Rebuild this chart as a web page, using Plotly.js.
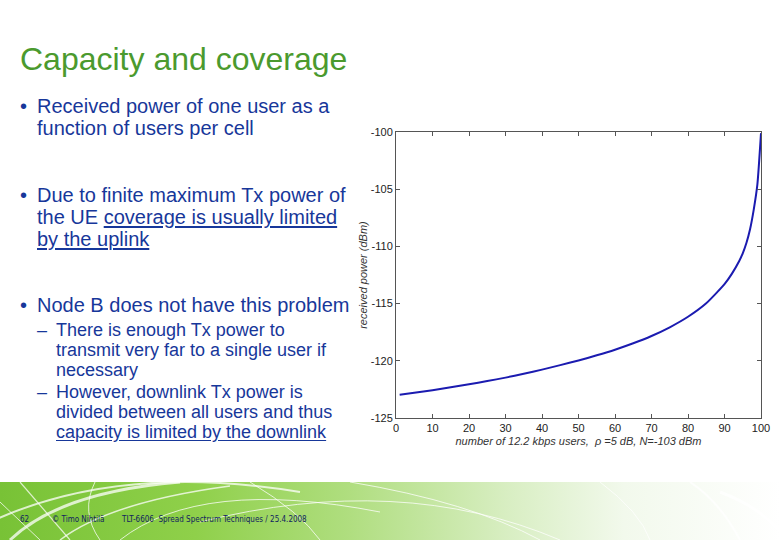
<!DOCTYPE html>
<html>
<head>
<meta charset="utf-8">
<script src="https://cdn.plot.ly/plotly-3.0.1.min.js"></script>
<style>
  html, body { margin:0; padding:0; background:#fff; }
  #slide { position:relative; width:780px; height:540px; overflow:hidden; background:#fff; font-family:Arial, "Liberation Sans", sans-serif; }
  #footer { position:absolute; left:0; top:482px; width:780px; height:58px;
    background: linear-gradient(90deg, #78c236 0%, #8fd04a 25%, #b0de80 45%, #d8eec2 65%, #f2f9ec 80%, #ffffff 100%); z-index:0; }
  #chart { position:absolute; left:0; top:0; width:780px; height:540px; z-index:1; }
  .txt { position:absolute; z-index:2; color:#17379a; white-space:nowrap; }
  #title { left:20px; top:41px; font-size:32px; color:#4b9a2e; }
  .b { font-size:20px; line-height:22px; }
  .s { font-size:18px; line-height:20px; }
  u { text-decoration:underline; text-underline-offset:2px; }
  .ft { position:absolute; z-index:2; font-size:8px; color:#10235f; top:515px; font-family:"DejaVu Sans Condensed","Liberation Sans Narrow",Arial,sans-serif; }
</style>
</head>
<body>
<div id="slide">
  <div id="footer">
    <svg width="780" height="58" style="position:absolute;left:0;top:0">
      <g fill="none" stroke="#ffffff" stroke-opacity="0.75">
        <path d="M-10 40 Q 120 -20 300 10" stroke-width="2"/>
        <path d="M10 58 Q 60 10 180 0" stroke-width="3"/>
        <path d="M60 58 Q 110 20 230 4" stroke-width="1.5"/>
        <path d="M120 58 Q 200 -5 380 30" stroke-width="1"/>
        <path d="M0 20 L 40 58" stroke-width="1"/>
        <path d="M20 0 L 70 58" stroke-width="1.2"/>
        <path d="M95 0 Q 80 30 100 58" stroke-width="1"/>
        <path d="M250 0 Q 300 30 320 58" stroke-width="1"/>
        <path d="M200 40 Q 400 -10 560 58" stroke-width="1"/>
        <path d="M350 0 Q 470 20 540 58" stroke-width="1"/>
        <path d="M600 0 Q 640 30 650 58" stroke-width="1"/>
        <path d="M690 0 Q 720 20 740 58" stroke-width="2"/>
        <path d="M720 10 Q 760 25 780 50" stroke-width="3"/>
      </g>
    </svg>
  </div>
  <div id="chart"></div>

  <div class="txt" id="title">Capacity and coverage</div>

  <div class="txt b" style="left:20px;top:95px;">•</div>
  <div class="txt b" style="left:37px;top:95px;">Received power of one user as a<br>function of users per cell</div>

  <div class="txt b" style="left:20px;top:184px;">•</div>
  <div class="txt b" style="left:37px;top:184px;">Due to finite maximum Tx power of<br>the UE <u>coverage is usually limited</u><br><u>by the uplink</u></div>

  <div class="txt b" style="left:20px;top:294px;">•</div>
  <div class="txt b" style="left:37px;top:294px;">Node B does not have this problem</div>

  <div class="txt s" style="left:37px;top:320px;">–</div>
  <div class="txt s" style="left:56px;top:320px;">There is enough Tx power to<br>transmit very far to a single user if<br>necessary</div>
  <div class="txt s" style="left:37px;top:382px;">–</div>
  <div class="txt s" style="left:56px;top:382px;">However, downlink Tx power is<br>divided between all users and thus<br><u>capacity is limited by the downlink</u></div>

  <div class="ft" style="left:20px;">62</div>
  <div class="ft" style="left:52px;">© Timo Nihtilä</div>
  <div class="ft" style="left:122px;">TLT-6606&nbsp; Spread Spectrum Techniques / 25.4.2008</div>
</div>

<script>
// number of 12.2 kbps users per cell
const users = [1, 5, 10, 15, 20, 25, 30, 35, 40, 45, 50, 55, 60, 65, 70, 75, 80, 85, 88, 90, 92, 94, 95, 96, 97, 98, 99, 100];
// received power of one user (dBm)
const receivedPower = [-122.97, -122.8, -122.58, -122.32, -122.05, -121.77, -121.47, -121.13, -120.77, -120.38,
  -119.97, -119.52, -119.03, -118.47, -117.83, -117.07, -116.15, -114.97, -114.0, -113.3,
  -112.4, -111.3, -110.6, -109.7, -108.5, -106.8, -104.6, -100.1];
const xTicks = [0, 10, 20, 30, 40, 50, 60, 70, 80, 90, 100];
const yTicks = [-125, -120, -115, -110, -105, -100];

const axisCommon = {
  showline: true, mirror: 'ticks', linecolor: '#555', linewidth: 1,
  ticks: 'inside', ticklen: 4, tickcolor: '#555', showgrid: false, zeroline: false,
  tickfont: {family: 'Arial, Liberation Sans, sans-serif', size: 11, color: '#222'}
};

Plotly.newPlot('chart', [{
  x: users, y: receivedPower, type: 'scatter', mode: 'lines',
  line: {color: '#1b1bb0', width: 2, shape: 'spline', smoothing: 0.6},
  hoverinfo: 'skip', showlegend: false
}], {
  width: 780, height: 540,
  margin: {l: 396, r: 19, t: 132, b: 122, pad: 0},
  paper_bgcolor: 'rgba(0,0,0,0)', plot_bgcolor: '#fff',
  xaxis: Object.assign({}, axisCommon, {
    range: [0, 100], tickvals: xTicks, ticktext: xTicks.map(String),
    title: {text: 'number of 12.2 kbps users,  ρ =5 dB, N=-103 dBm', standoff: 4,
      font: {family: 'Arial, Liberation Sans, sans-serif', size: 11, color: '#333', style: 'italic'}}
  }),
  yaxis: Object.assign({}, axisCommon, {
    range: [-125, -100], tickvals: yTicks, ticktext: yTicks.map(String),
    title: {text: 'received power (dBm)', standoff: 0,
      font: {family: 'Arial, Liberation Sans, sans-serif', size: 11, color: '#333', style: 'italic'}}
  })
}, {staticPlot: true, displayModeBar: false});
</script>
</body>
</html>
